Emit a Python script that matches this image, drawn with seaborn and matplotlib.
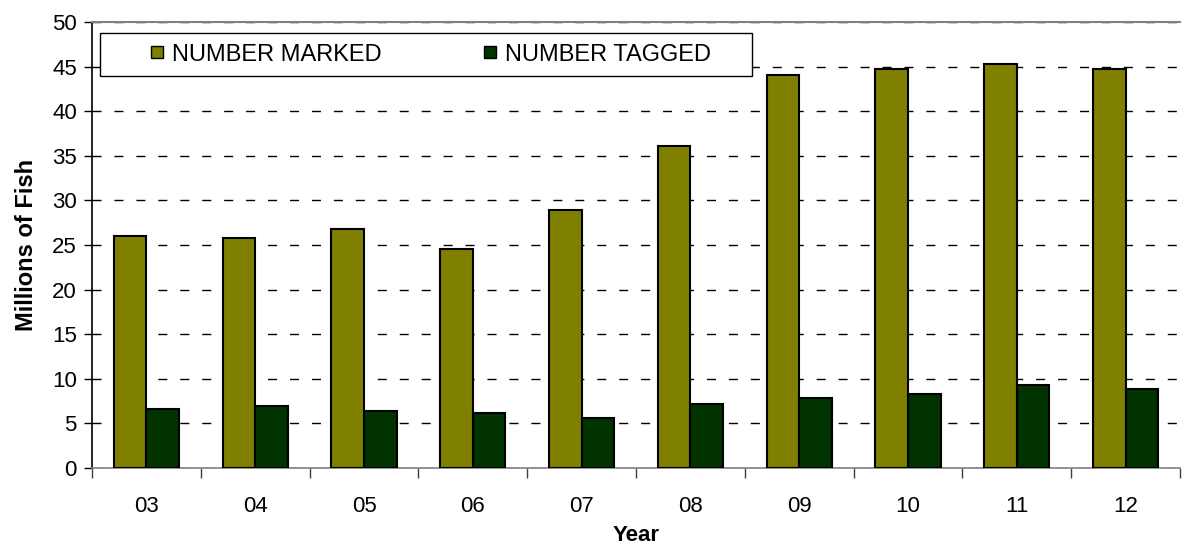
import pandas as pd
import seaborn as sns
import matplotlib.pyplot as plt
from matplotlib.lines import Line2D
from matplotlib.patches import Rectangle

years = ['03', '04', '05', '06', '07', '08', '09', '10', '11', '12']
number_marked = [26.0, 25.8, 26.8, 24.6, 28.9, 36.1, 44.1, 44.7, 45.3, 44.7]
number_tagged = [6.6, 7.0, 6.4, 6.2, 5.6, 7.2, 7.8, 8.3, 9.3, 8.9]
series = ['NUMBER MARKED', 'NUMBER TAGGED']
colors = ['#808000', '#003300']

df = pd.DataFrame({'Year': years * 2,
                   'value': number_marked + number_tagged,
                   'series': [series[0]] * len(years) + [series[1]] * len(years)})

sns.set_style('white')
plt.rcParams['font.family'] = ['Liberation Sans', 'DejaVu Sans']
plt.rcParams['text.color'] = 'black'
plt.rcParams['axes.labelcolor'] = 'black'
plt.rcParams['xtick.color'] = 'black'
plt.rcParams['ytick.color'] = 'black'

fig = plt.figure(figsize=(11.89, 5.46), dpi=100)
ax = fig.add_axes([0.0774, 0.1429, 0.915, 0.8168])

sns.barplot(data=df, x='Year', y='value', hue='series', palette=colors,
            width=0.6, edgecolor='black', linewidth=1.5, saturation=1,
            legend=False, ax=ax, zorder=3)

ax.set_ylim(0, 50)
ax.set_xlim(-0.5, len(years) - 0.5)
ax.set_yticks(range(0, 51, 5))
ax.yaxis.grid(True, color='black', linestyle=(0, (6.5, 9.3)), linewidth=1, zorder=0)
ax.xaxis.grid(False)
ax.set_axisbelow(True)

ax.spines['right'].set_visible(False)
ax.spines['top'].set_color('#808080')
ax.spines['top'].set_linewidth(1.5)
ax.spines['left'].set_color('black')
ax.spines['bottom'].set_color('#808080')
ax.spines['left'].set_linewidth(1.2)
ax.spines['bottom'].set_linewidth(1.2)

# category ticks sit between groups, labels in the middle
ax.set_xticks([i + 0.5 for i in range(-1, len(years))], minor=True)
ax.tick_params(axis='x', which='minor', length=7, width=1, color='#404040', direction='out', bottom=True)
ax.tick_params(axis='x', which='major', length=0, pad=20, labelsize=16)
ax.tick_params(axis='y', length=6, width=1, direction='out', left=True, labelsize=16, pad=5)

ax.set_xlabel('Year', fontsize=16, fontweight='bold', labelpad=6)
ax.set_ylabel('Millions of Fish', fontsize=17, fontweight='bold', labelpad=10)

# legend box drawn separately so entries can sit with wide side padding
box = Rectangle((0.007, 0.879), 0.6, 0.096, transform=ax.transAxes,
                facecolor='white', edgecolor='black', linewidth=1, zorder=4)
ax.add_patch(box)
handles = [Line2D([], [], marker='s', linestyle='none', markersize=9,
                  markerfacecolor=c, markeredgecolor='black', markeredgewidth=1)
           for c in colors]
leg = ax.legend(handles, series, ncol=2, loc='center',
                bbox_to_anchor=(0.007 + 0.303, 0.879 + 0.048),
                frameon=False, fontsize=17, handletextpad=0.25,
                handlelength=0.8, columnspacing=4.15, borderaxespad=0)
leg.set_zorder(5)

plt.savefig('out.png', dpi=100)
